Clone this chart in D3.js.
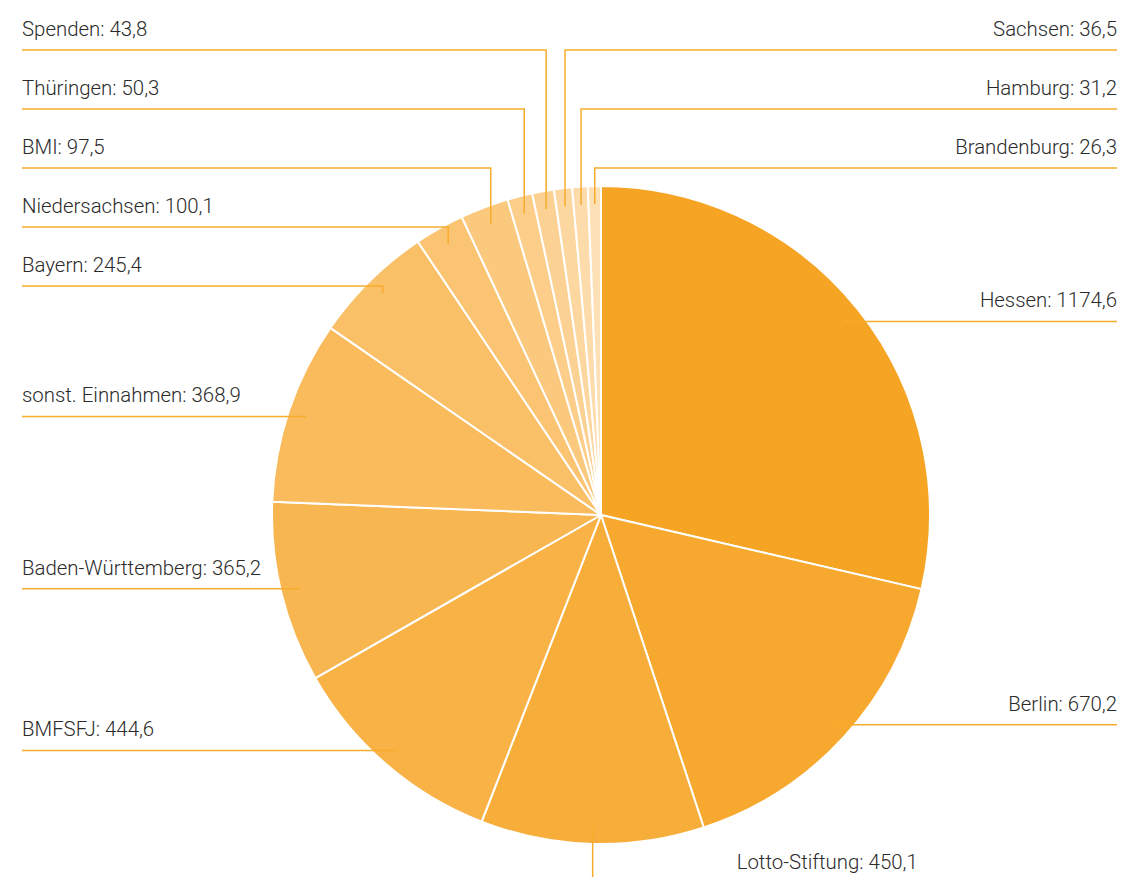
<!DOCTYPE html>
<html>
<head>
<meta charset="utf-8">
<script src="https://cdn.jsdelivr.net/npm/d3@7"></script>
<style>
  html, body { margin: 0; padding: 0; background: #fff; }
  svg { display: block; }
  .label { font-family: Roboto, "Noto Sans", sans-serif; font-weight: 300; font-size: 20.4px; fill: #2b2b2b; }
</style>
</head>
<body>
<div id="main"></div>
<script>
// Einnahmen
var categories = ["Hessen", "Berlin", "Lotto-Stiftung", "BMFSFJ", "Baden-Württemberg",
  "sonst. Einnahmen", "Bayern", "Niedersachsen", "BMI", "Thüringen", "Spenden",
  "Sachsen", "Hamburg", "Brandenburg"];
var values = [1174.6, 670.2, 450.1, 444.6, 365.2, 368.9, 245.4, 100.1, 97.5, 50.3, 43.8, 36.5, 31.2, 26.3];

var width = 1126, height = 877;
var cx = 601, cy = 515, radius = 329;
var leftX = 22, rightX = 1117, topRow = 50, rowStep = 59;

var de = d3.formatLocale({decimal: ",", thousands: ".", grouping: [3], currency: ["", " €"]});
var fmt = de.format(".1f");

var data = categories.map(function(c, i){ return {name: c, value: values[i], i: i}; });

var color = d3.scaleLinear()
    .domain([0, data.length - 1])
    .range(["#f6a424", "#fee0b6"]);

var svg = d3.select("#main").append("svg")
    .attr("width", width)
    .attr("height", height);

var pie = d3.pie().sort(null).value(function(d){ return d.value; });
var arc = d3.arc().innerRadius(0).outerRadius(radius);
var arcs = pie(data);

var g = svg.append("g").attr("transform", "translate(" + cx + "," + cy + ")");

g.selectAll("path.slice")
    .data(arcs)
    .enter().append("path")
      .attr("class", "slice")
      .attr("d", arc)
      .attr("fill", function(d){ return color(d.data.i); })
      .attr("stroke", "#fff")
      .attr("stroke-width", 2)
      .attr("stroke-linejoin", "round");

// anchors on a ring inside the pie
var deg = 180 / Math.PI;
var anchorArc = d3.arc().innerRadius(radius * 0.945).outerRadius(radius * 0.945);
arcs.forEach(function(d){
  var m = (d.startAngle + d.endAngle) / 2;
  var c = anchorArc.centroid(d);
  d.ax = cx + c[0];
  d.ay = cy + c[1];
  d.mid = m * deg;
  if (Math.abs(d.mid - 180) < 8) d.side = "bottom";
  else if (d.mid < 180 || d.mid > 351) d.side = "right";
  else d.side = "left";
  d.ly = d.ay;
});

// simple collision handling per column
function layout(list){
  for (var k = list.length - 2; k >= 0; k--) {
    list[k].ly = Math.min(list[k].ly, list[k + 1].ly - rowStep);
  }
  // pin the packed run at the top to the first rows
  var run = 1;
  while (run < list.length && Math.abs(list[run].ly - list[run - 1].ly - rowStep) < 0.5) run++;
  if (list[0].ly < topRow + rowStep * 2 || run > 1) {
    for (var j = 0; j < run; j++) list[j].ly = topRow + j * rowStep;
  }
}
var left = arcs.filter(function(d){ return d.side === "left"; })
    .sort(function(a, b){ return b.mid - a.mid; });
var right = arcs.filter(function(d){ return d.side === "right"; })
    .sort(function(a, b){
      var am = a.mid > 180 ? a.mid - 360 : a.mid, bm = b.mid > 180 ? b.mid - 360 : b.mid;
      return am - bm;
    });
layout(left);
layout(right);

var lines = svg.append("g").attr("class", "leaders");
var labels = svg.append("g").attr("class", "labels");

arcs.forEach(function(d){
  var txt = d.data.name + ": " + fmt(d.data.value);
  if (d.side === "bottom") {
    lines.append("path")
      .attr("d", "M" + d.ax + "," + d.ay + "V" + (height + 10))
      .attr("fill", "none")
      .attr("stroke", "#f8ac2c")
      .attr("stroke-width", 1.5);
    labels.append("text")
      .attr("class", "label")
      .attr("x", d.ax + 144)
      .attr("y", height - 8)
      .text(txt);
    return;
  }
  var ex = d.side === "left" ? leftX : rightX;
  lines.append("path")
    .attr("d", "M" + d.ax + "," + d.ay + "V" + d.ly + "H" + ex)
    .attr("fill", "none")
    .attr("stroke", "#f8ac2c")
    .attr("stroke-width", 1.5);
  labels.append("text")
    .attr("class", "label")
    .attr("x", ex)
    .attr("y", d.ly - 14)
    .attr("text-anchor", d.side === "left" ? "start" : "end")
    .text(txt);
});
</script>
</body>
</html>
